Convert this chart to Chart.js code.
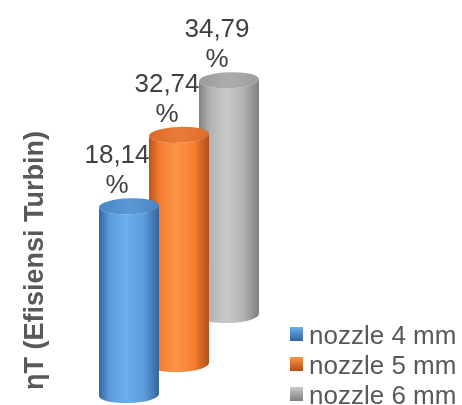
<!DOCTYPE html>
<html>
<head>
<meta charset="utf-8">
<script src="https://cdn.jsdelivr.net/npm/chart.js@4/dist/chart.umd.min.js"></script>
<style>
  html, body { margin: 0; padding: 0; background: #ffffff; }
  #wrap { position: relative; width: 462px; height: 405px; }
</style>
</head>
<body>
<div id="wrap"><canvas id="c" width="462" height="405"></canvas></div>
<script>
// Turbine efficiency per nozzle diameter
const categories = ['ηT'];
const seriesLabels = ['nozzle 4 mm', 'nozzle 5 mm', 'nozzle 6 mm'];
const nozzle4 = [18.14];
const nozzle5 = [32.74];
const nozzle6 = [34.79];
const seriesValues = [nozzle4, nozzle5, nozzle6];
const axisTitle = 'ηT (Efisiensi Turbin)';
const valueSuffix = '%';

// Value axis range (axis itself is hidden)
const Y_MIN = -50;
const Y_MAX = 80;

// Cylinder shading per series
const palettes = [
  { edgeL: '#3567a3', light: '#6aaeee', mid: '#5c9ddd', edgeR: '#34649f', top: '#4a86c6', topLight: '#5b98d6' },
  { edgeL: '#b9531a', light: '#ff9447', mid: '#f47e30', edgeR: '#b14f16', top: '#dc6b2a', topLight: '#ea7c3a' },
  { edgeL: '#818181', light: '#c9c9c9', mid: '#b2b2b2', edgeR: '#7f7f7f', top: '#9c9c9c', topLight: '#acacac' }
];
// depth shift of each series row in the 3D layout (px)
const depthShift = [5, -26, -75];
const CYL_SCALE = 1.2;   // cylinder diameter relative to bar slot
const ELLIPSE_RY = 8;
const ELLIPSE_TILT = -0.035;

function fmtValue(v) { return v.toFixed(2).replace('.', ','); }

function drawCylinder(ctx, cx, top, bottom, rx, ry, p) {
  const g = ctx.createLinearGradient(cx - rx, 0, cx + rx, 0);
  g.addColorStop(0, p.edgeL);
  g.addColorStop(0.18, p.mid);
  g.addColorStop(0.45, p.light);
  g.addColorStop(0.75, p.mid);
  g.addColorStop(1, p.edgeR);
  ctx.save();
  ctx.beginPath();
  ctx.moveTo(cx - rx, top);
  ctx.lineTo(cx - rx, bottom);
  ctx.ellipse(cx, bottom, rx, ry, ELLIPSE_TILT, Math.PI, 0, true);
  ctx.lineTo(cx + rx, top);
  ctx.ellipse(cx, top, rx, ry, ELLIPSE_TILT, 0, Math.PI, false);
  ctx.closePath();
  ctx.fillStyle = g;
  ctx.fill();

  const tg = ctx.createLinearGradient(cx - rx, top, cx + rx, top);
  tg.addColorStop(0, p.top);
  tg.addColorStop(0.5, p.topLight);
  tg.addColorStop(1, p.top);
  ctx.beginPath();
  ctx.ellipse(cx, top, rx, ry, ELLIPSE_TILT, 0, Math.PI * 2);
  ctx.fillStyle = tg;
  ctx.fill();
  ctx.restore();
}

const cylinderPlugin = {
  id: 'cylinders',
  afterDatasetsDraw(chart) {
    const ctx = chart.ctx;
    const y = chart.scales.y;
    const floor = y.getPixelForValue(y.min);
    const font = '26px "Liberation Sans", Arial, sans-serif';
    // back row first so front cylinders overlap
    for (let i = chart.data.datasets.length - 1; i >= 0; i--) {
      const meta = chart.getDatasetMeta(i);
      meta.data.forEach((el) => {
        const rx = el.width * CYL_SCALE / 2;
        const top = el.y + depthShift[i];
        const bottom = floor + depthShift[i];
        drawCylinder(ctx, el.x, top, bottom, rx, ELLIPSE_RY, palettes[i]);
      });
    }
    // value labels
    ctx.save();
    ctx.font = font;
    ctx.fillStyle = '#404040';
    ctx.textAlign = 'center';
    ctx.textBaseline = 'alphabetic';
    chart.data.datasets.forEach((ds, i) => {
      const meta = chart.getDatasetMeta(i);
      meta.data.forEach((el, j) => {
        const top = el.y + depthShift[i] - ELLIPSE_RY;
        const lx = el.x - 12;
        ctx.fillText(valueSuffix, lx, top - 5);
        ctx.fillText(fmtValue(ds.data[j]), lx, top - 35);
      });
    });
    ctx.restore();
  },
  afterDraw(chart) {
    // legend, bottom right
    const ctx = chart.ctx;
    ctx.save();
    ctx.font = '26px "Liberation Sans", Arial, sans-serif';
    ctx.textAlign = 'left';
    ctx.textBaseline = 'alphabetic';
    chart.data.datasets.forEach((ds, i) => {
      const base = 344 + i * 30;
      const bx = 290, by = base - 17;
      const g = ctx.createLinearGradient(0, by, 0, by + 14);
      g.addColorStop(0, palettes[i].light);
      g.addColorStop(1, palettes[i].edgeR);
      ctx.fillStyle = g;
      ctx.fillRect(bx, by, 13, 14);
      ctx.fillStyle = '#595959';
      ctx.fillText(ds.label, 309, base);
    });
    ctx.restore();
  }
};

const datasets = seriesLabels.map((label, i) => ({
  label: label,
  data: seriesValues[i],
  backgroundColor: 'rgba(0,0,0,0)',
  borderWidth: 0
}));

new Chart(document.getElementById('c'), {
  type: 'bar',
  data: { labels: categories, datasets: datasets },
  options: {
    responsive: false,
    animation: false,
    devicePixelRatio: 1,
    layout: { padding: { left: 15, right: 208, top: 30, bottom: 15 } },
    datasets: { bar: { categoryPercentage: 1, barPercentage: 1 } },
    plugins: {
      legend: { display: false },
      tooltip: { enabled: false }
    },
    scales: {
      x: { display: false },
      y: {
        min: Y_MIN,
        max: Y_MAX,
        grid: { display: false, drawTicks: false },
        border: { display: false },
        ticks: { display: false },
        title: {
          display: true,
          text: axisTitle,
          align: 'start',
          color: '#595959',
          font: { family: '"Liberation Sans", Arial, sans-serif', size: 27, weight: 'bold' },
          padding: { top: 4, bottom: 4 }
        },
        afterFit(scale) { scale.width = 89; }
      }
    }
  },
  plugins: [cylinderPlugin]
});
</script>
</body>
</html>
